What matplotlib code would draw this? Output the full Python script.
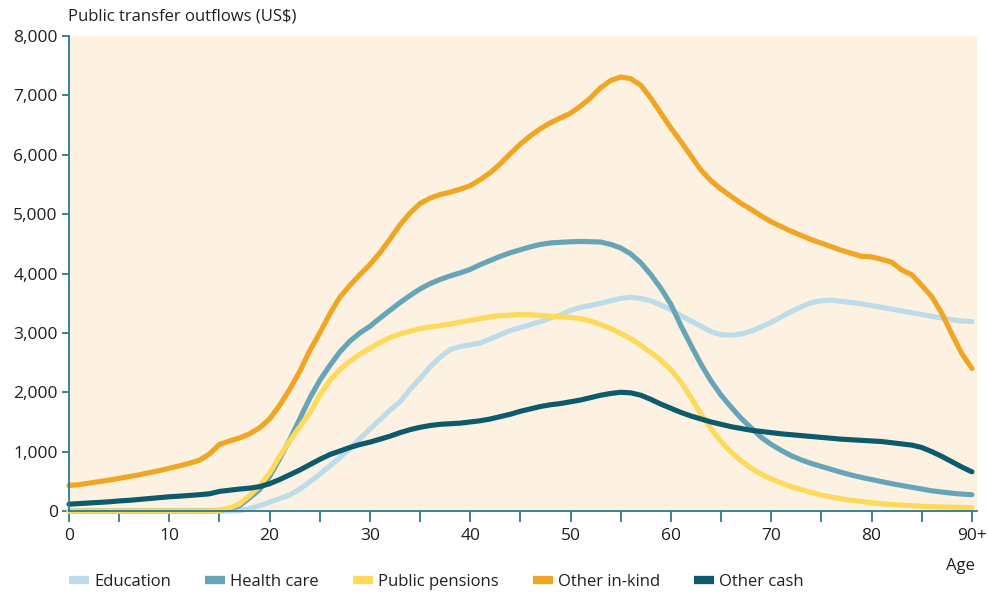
import matplotlib
matplotlib.use("Agg")
import matplotlib.pyplot as plt
import numpy as np

# Public transfer outflows by age (US$), ages 0 .. 90+
ages = np.arange(0, 91)

education = [
    0, 0, 0, 0, 0, 0, 0, 0, 0, 0,
    0, 0, 0, 0, 0, 0, 0, 5, 40, 90,
    150, 210, 270, 370, 490, 620, 760, 900, 1050, 1220,
    1380, 1540, 1700, 1840, 2050, 2230, 2430, 2590, 2720, 2770,
    2800, 2830, 2900, 2970, 3040, 3090, 3140, 3190, 3250, 3300,
    3380, 3430, 3460, 3500, 3540, 3580, 3600, 3580, 3540, 3470,
    3390, 3290, 3200, 3110, 3020, 2970, 2960, 2980, 3030, 3100,
    3180, 3270, 3360, 3440, 3510, 3540, 3550, 3530, 3510, 3490,
    3460, 3430, 3400, 3370, 3340, 3310, 3280, 3250, 3220, 3200,
    3190,
]

health_care = [
    0, 0, 0, 0, 0, 0, 0, 0, 0, 0,
    0, 0, 0, 0, 0, 10, 40, 90, 220, 360,
    580, 880, 1200, 1550, 1900, 2200, 2450, 2680, 2860, 3000,
    3110, 3250, 3380, 3510, 3630, 3740, 3830, 3900, 3960, 4010,
    4070, 4150, 4220, 4290, 4350, 4400, 4450, 4490, 4515, 4525,
    4535, 4540, 4535, 4530, 4490, 4430, 4330, 4180, 3980, 3750,
    3480, 3120, 2790, 2470, 2190, 1950, 1750, 1560, 1400, 1240,
    1120, 1020, 930, 860, 800, 750, 700, 650, 605, 565,
    530, 495, 460, 430, 400, 370, 340, 320, 300, 285,
    275,
]

public_pensions = [
    0, 0, 0, 0, 0, 0, 0, 0, 0, 0,
    0, 0, 0, 0, 0, 10, 50, 120, 260, 420,
    640, 920, 1180, 1420, 1650, 1950, 2200, 2380, 2520, 2640,
    2740, 2840, 2920, 2980, 3030, 3070, 3100, 3120, 3150, 3180,
    3210, 3240, 3270, 3290, 3300, 3310, 3305, 3295, 3280, 3270,
    3260, 3240, 3200, 3140, 3070, 2990, 2900, 2790, 2670, 2540,
    2380, 2170, 1910, 1630, 1380, 1170, 990, 845, 720, 620,
    540, 470, 410, 360, 310, 270, 235, 205, 180, 160,
    140, 125, 110, 98, 88, 80, 72, 68, 64, 62,
    60,
]

other_in_kind = [
    430, 445, 470, 495, 520, 550, 580, 610, 645, 680,
    720, 760, 805, 855, 960, 1120, 1180, 1230, 1300, 1400,
    1550, 1780, 2050, 2350, 2700, 3000, 3320, 3600, 3800, 3980,
    4150, 4350, 4580, 4820, 5020, 5180, 5270, 5330, 5370, 5420,
    5480, 5580, 5700, 5850, 6020, 6180, 6320, 6440, 6540, 6620,
    6700, 6820, 6960, 7130, 7250, 7310, 7280, 7170, 6950, 6700,
    6450, 6220, 5980, 5740, 5560, 5420, 5300, 5180, 5080, 4970,
    4870, 4790, 4710, 4640, 4570, 4510, 4450, 4390, 4340, 4290,
    4280, 4240, 4190, 4060, 3980, 3800, 3610, 3330, 2980, 2650,
    2400,
]

other_cash = [
    115, 125, 135, 145, 155, 170, 180, 195, 210, 225,
    240, 250, 262, 275, 290, 330, 350, 370, 385, 410,
    460, 530, 610, 690, 780, 870, 950, 1010, 1070, 1120,
    1160, 1210, 1260, 1320, 1370, 1410, 1440, 1460, 1470, 1480,
    1500, 1520, 1550, 1590, 1630, 1680, 1720, 1760, 1790, 1810,
    1840, 1870, 1910, 1950, 1980, 2000, 1990, 1950, 1880, 1800,
    1730, 1660, 1600, 1550, 1500, 1460, 1420, 1390, 1360, 1340,
    1320, 1300, 1285, 1270, 1255, 1240, 1225, 1210, 1200, 1190,
    1180, 1170, 1150, 1130, 1110, 1070, 1000, 920, 830, 740,
    660,
]

x_ticks = [0, 10, 20, 30, 40, 50, 60, 70, 80, 90]
x_tick_labels = ["0", "10", "20", "30", "40", "50", "60", "70", "80", "90+"]
y_ticks = [0, 1000, 2000, 3000, 4000, 5000, 6000, 7000, 8000]

series = [
    ("Education", education, "#bcdce9"),
    ("Health care", health_care, "#66a5b8"),
    ("Public pensions", public_pensions, "#ffd95a"),
    ("Other in-kind", other_in_kind, "#f0a623"),
    ("Other cash", other_cash, "#0b5b6d"),
]

axis_col = "#2b7a8c"
text_col = "#231f20"

plt.rcParams["font.family"] = ["Open Sans", "DejaVu Sans"]

fig = plt.figure(figsize=(9.88, 5.96), dpi=100)
ax = fig.add_axes([0.0698, 0.1426, 0.919, 0.797])
ax.set_facecolor("#fdf1e2")

# draw order: lighter lines underneath
order = [2, 1, 0, 3, 4]
for i in order:
    label, vals, col = series[i]
    ax.plot(ages, vals, color=col, linewidth=3.7, solid_capstyle="round",
            solid_joinstyle="round", label=label, zorder=3 + i, clip_on=False)

ax.set_xlim(0, 90.5)
ax.set_ylim(0, 8000)
ax.set_xticks(x_ticks)
ax.set_xticklabels(x_tick_labels)
ax.set_xticks(np.arange(5, 91, 10), minor=True)
ax.set_yticks(y_ticks)
ax.set_yticklabels([format(v, ",") for v in y_ticks])

for s in ("top", "right"):
    ax.spines[s].set_visible(False)
for s in ("left", "bottom"):
    ax.spines[s].set_color(axis_col)
    ax.spines[s].set_linewidth(1.3)
    ax.spines[s].set_zorder(10)

ax.tick_params(axis="x", which="both", direction="out", length=8, width=1.3,
               color=axis_col, labelsize=12.5, labelcolor=text_col, pad=4)
ax.tick_params(axis="y", which="major", direction="out", length=5, width=1.3,
               color=axis_col, labelsize=12.5, labelcolor=text_col, pad=3)

fig.text(0.069, 0.972, "Public transfer outflows (US$)", fontsize=12,
         color=text_col, ha="left", va="center")
fig.text(0.987, 0.05, "Age", fontsize=12, color=text_col, ha="right", va="center")

handles = {h.get_label(): h for h in ax.get_lines()}
leg_handles = [handles[s[0]] for s in series]
leg = fig.legend(leg_handles, [s[0] for s in series], loc="center left",
                 bbox_to_anchor=(0.055, 0.024), ncol=5, frameon=False,
                 fontsize=12, handlelength=1.2, handletextpad=0.3,
                 columnspacing=2.05, labelcolor=text_col)
for line in leg.get_lines():
    line.set_linewidth(6)
    line.set_solid_capstyle("butt")

fig.savefig("out.png", dpi=100)
plt.close(fig)
